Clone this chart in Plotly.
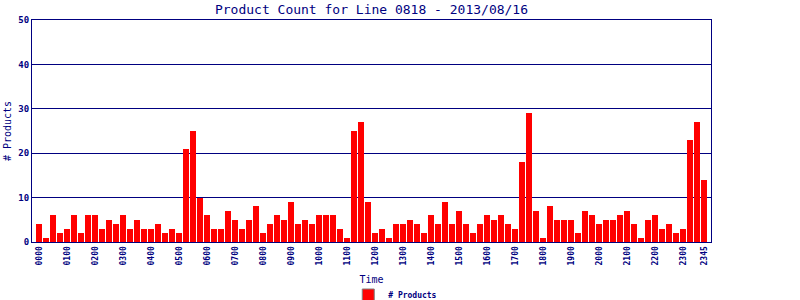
import plotly.graph_objects as go

times = [f"{h:02d}{m:02d}" for h in range(24) for m in (0, 15, 30, 45)]
counts = [4, 1, 6, 2, 3, 6, 2, 6, 6, 3, 5, 4, 6, 3, 5, 3, 3, 4, 2, 3, 2, 21, 25, 10, 6, 3, 3, 7, 5, 3,
          5, 8, 2, 4, 6, 5, 9, 4, 5, 4, 6, 6, 6, 3, 1, 25, 27, 9, 2, 3, 1, 4, 4, 5, 4, 2, 6, 4, 9, 4, 7, 4, 2, 4,
          6, 5, 6, 4, 3, 18, 29, 7, 1, 8, 5, 5, 5, 2, 7, 6, 4, 5, 5, 6, 7, 4, 1, 5, 6, 3, 4, 2, 3, 23, 27, 14]
tick_labels = [f"{h:02d}00" for h in range(24)] + ["2345"]
y_ticks = [0, 10, 20, 30, 40, 50]

NAVY = "#000080"
FONT = "DejaVu Sans Mono"

idx = list(range(len(times)))
tick_pos = [times.index(t) for t in tick_labels]

fig = go.Figure()
fig.add_trace(go.Bar(
    x=idx, y=counts, name="# Products", width=6 / 7, showlegend=False,
    marker=dict(color="#FF0000", line=dict(width=0)),
    hovertext=times,
))
# legend entry (same series, styled like the reference legend swatch)
fig.add_trace(go.Bar(
    x=[None], y=[None], name="# Products", showlegend=True,
    marker=dict(color="#FF0000", line=dict(width=1, color="#808080")),
))

fig.update_layout(
    width=800, height=300,
    margin=dict(l=32, r=89, t=20, b=58, autoexpand=False),
    paper_bgcolor="white", plot_bgcolor="white",
    title=dict(text="Product Count for Line 0818 - 2013/08/16",
               font=dict(family=FONT, size=13, color=NAVY),
               x=(32 + 711) / 2 / 800, xanchor="center", y=1 - 9 / 300, yanchor="middle"),
    showlegend=True,
    legend=dict(orientation="h", x=428 / 800, xref="paper", xanchor="center",
                y=-53 / 222, yanchor="middle",
                font=dict(family=FONT, size=8, color=NAVY, weight="bold"),
                itemwidth=30, tracegroupgap=0, bgcolor="rgba(0,0,0,0)"),
    bargap=0,
)
fig.update_xaxes(
    range=[-1, 96], tickmode="array", tickvals=tick_pos, ticktext=tick_labels,
    tickangle=-90, ticks="", showgrid=False, zeroline=False, automargin=False,
    showline=True, linecolor=NAVY, linewidth=1, mirror=True,
    tickfont=dict(family=FONT, size=8, color=NAVY, weight="bold"),
    title=dict(text="Time", font=dict(family=FONT, size=10, color=NAVY), standoff=11),
)
fig.update_yaxes(
    range=[0, 50], tickmode="array", tickvals=y_ticks,
    ticks="", showgrid=True, gridcolor=NAVY, gridwidth=1, zeroline=False, automargin=False,
    showline=True, linecolor=NAVY, linewidth=1, mirror=True,
    tickfont=dict(family=FONT, size=9, color=NAVY, weight="bold"),
    title=dict(text="# Products", font=dict(family=FONT, size=10, color=NAVY), standoff=4),
)

fig.write_html("out.html")
